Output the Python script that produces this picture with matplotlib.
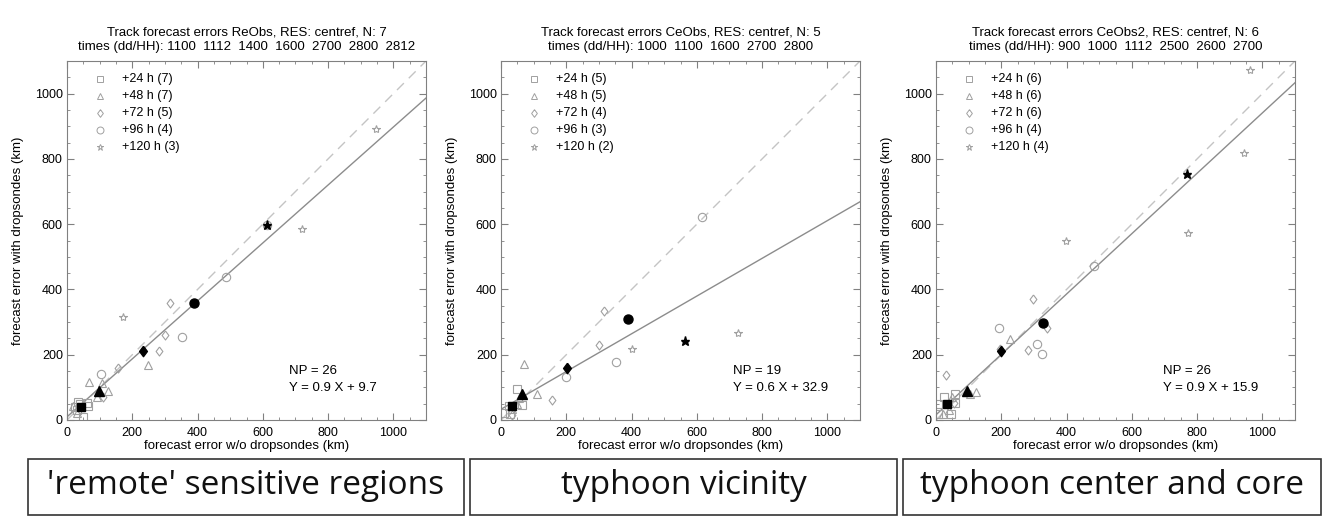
import numpy as np
import matplotlib
matplotlib.use("Agg")
import matplotlib.pyplot as plt
from matplotlib.patches import Rectangle
from matplotlib.ticker import MultipleLocator

plt.rcParams["font.family"] = ["Liberation Sans", "DejaVu Sans"]

# ------------------------------------------------------------------
# Data, one list per lead time: 24, 48, 72, 96, 120 h
# ------------------------------------------------------------------
lead_labels = ["+24 h", "+48 h", "+72 h", "+96 h", "+120 h"]

experiments = ["ReObs", "CeObs", "CeObs2"]
region_labels = ["'remote' sensitive regions", "typhoon vicinity", "typhoon center and core"]

reobs_times = ["1100", "1112", "1400", "1600", "2700", "2800", "2812"]
ceobs_times = ["1000", "1100", "1600", "2700", "2800"]
ceobs2_times = ["900", "1000", "1112", "2500", "2600", "2700"]

# forecast error w/o dropsondes (km)
reobs_wo = [
    [25, 40, 60, 65, 48, 30, 33],
    [248, 68, 106, 127, 92, 32, 17],
    [316, 300, 283, 155, 111],
    [105, 352, 487, 612],
    [171, 720, 947],
]
# forecast error with dropsondes (km)
reobs_with = [
    [41, 48, 53, 44, 9, 30, 55],
    [168, 117, 112, 90, 70, 22, 42],
    [358, 260, 211, 160, 70],
    [142, 255, 438, 597],
    [316, 585, 892],
]

ceobs_wo = [
    [48, 65, 25, 9, 28],
    [71, 109, 55, 50, 35],
    [317, 301, 157, 33],
    [615, 353, 199],
    [400, 726],
]
ceobs_with = [
    [95, 45, 43, 20, 17],
    [173, 81, 68, 50, 33],
    [335, 230, 62, 15],
    [623, 178, 131],
    [217, 268],
]

ceobs2_wo = [
    [23, 7, 58, 58, 45, 7],
    [227, 123, 104, 22, 40, 48],
    [298, 341, 281, 196, 31, 55],
    [194, 308, 324, 484],
    [962, 944, 773, 398],
]
ceobs2_with = [
    [70, 50, 80, 52, 18, 18],
    [247, 87, 80, 18, 30, 72],
    [370, 281, 214, 217, 138, 52],
    [283, 233, 202, 472],
    [1071, 818, 572, 548],
]

# linear fit Y = a X + b
fit_slope = [0.888, 0.578, 0.925]
fit_intercept = [9.7, 32.9, 15.9]
fit_slope_text = [0.9, 0.6, 0.9]

panel_times = [reobs_times, ceobs_times, ceobs2_times]
panel_wo = [reobs_wo, ceobs_wo, ceobs2_wo]
panel_with = [reobs_with, ceobs_with, ceobs2_with]

# ------------------------------------------------------------------
# Plot
# ------------------------------------------------------------------
W, H = 1329, 517
fig = plt.figure(figsize=(W / 100, H / 100), dpi=100)

ax_left_px = [67, 501, 936]
ax_w_px, ax_h_px = 359, 359
ax_bottom_px = 420
np_text_x = [0.618, 0.645, 0.632]

diamond = [(0, 1), (0.75, 0), (0, -1), (-0.75, 0), (0, 1)]
lead_markers = ["s", "^", diamond, "o", "*"]
open_ms = [5.5, 6.0, 6.5, 6.0, 6.0]
mean_ms = [6.0, 6.5, 7.5, 6.5, 6.5]
legend_ms = [4.5, 5.0, 5.5, 5.0, 5.0]

grey_pt = "#a0a0a0"
grey_line = "#8c8c8c"
grey_dash = "#c4c4c4"
frame_col = "#808080"

for i in range(3):
    ax = fig.add_axes([ax_left_px[i] / W, (H - ax_bottom_px) / H, ax_w_px / W, ax_h_px / H])

    # 1:1 line and regression line
    xx = np.array([0, 1100])
    ax.plot(xx, xx, color=grey_dash, lw=1.0, ls=(0, (7, 5)), zorder=1)
    ax.plot(xx, fit_slope[i] * xx + fit_intercept[i], color=grey_line, lw=1.0, zorder=1)

    n_total = 0
    for k in range(5):
        xs = np.array(panel_wo[i][k])
        ys = np.array(panel_with[i][k])
        n_total += len(xs)
        ax.plot(xs, ys, ls="none", marker=lead_markers[k], ms=open_ms[k], mfc="none",
                mec=grey_pt, mew=0.8, zorder=2)
    # group means as filled black symbols
    for k in range(5):
        mx = np.mean(panel_wo[i][k])
        my = np.mean(panel_with[i][k])
        ax.plot(mx, my, ls="none", marker=lead_markers[k], ms=mean_ms[k], color="black", zorder=3)

    # legend drawn by hand
    for k in range(5):
        yk = 0.950 - 0.0475 * k
        ax.plot(0.092, yk, transform=ax.transAxes, marker=lead_markers[k], ms=legend_ms[k],
                mfc="none", mec=grey_pt, mew=0.7, ls="none")
        ax.text(0.153, yk, f"{lead_labels[k]} ({len(panel_wo[i][k])})", transform=ax.transAxes,
                fontsize=9, va="center", ha="left")

    ax.text(np_text_x[i], 0.137, f"NP = {n_total}", transform=ax.transAxes, fontsize=9.5, va="center")
    ax.text(np_text_x[i], 0.088, f"Y = {fit_slope_text[i]:.1f} X + {fit_intercept[i]:.1f}",
            transform=ax.transAxes, fontsize=9.5, va="center")

    ax.set_xlim(0, 1100)
    ax.set_ylim(0, 1100)
    ax.xaxis.set_major_locator(MultipleLocator(200))
    ax.yaxis.set_major_locator(MultipleLocator(200))
    ax.xaxis.set_minor_locator(MultipleLocator(50))
    ax.yaxis.set_minor_locator(MultipleLocator(50))
    ax.tick_params(which="both", direction="in", top=True, right=True, color=frame_col,
                   labelsize=9)
    ax.tick_params(axis="x", pad=5)
    ax.tick_params(axis="y", pad=3)
    ax.tick_params(which="major", length=5)
    ax.tick_params(which="minor", length=2.5)
    for sp in ax.spines.values():
        sp.set_color(frame_col)

    ax.set_xlabel("forecast error w/o dropsondes (km)", fontsize=9.5, labelpad=1)
    ax.set_ylabel("forecast error with dropsondes (km)", fontsize=9.5, labelpad=8)

    times = panel_times[i]
    ax.set_title(f"Track forecast errors {experiments[i]}, RES: centref, N: {len(times)}\n"
                 f"times (dd/HH): " + "  ".join(times), fontsize=9.5, pad=8, linespacing=1.3)

# region boxes at the bottom
box_px = [(28, 464), (470, 897), (903, 1321)]
for (x0, x1), label in zip(box_px, region_labels):
    fig.patches.append(Rectangle((x0 / W, 2 / H), (x1 - x0) / W, 56 / H,
                                 transform=fig.transFigure, fill=False,
                                 edgecolor="#333333", lw=1.2))
    fig.text((x0 + x1) / 2 / W, 31 / H, label, ha="center", va="center",
             fontsize=24, family=["Open Sans", "DejaVu Sans"], color="#111111")

fig.savefig("out.png", dpi=100)
